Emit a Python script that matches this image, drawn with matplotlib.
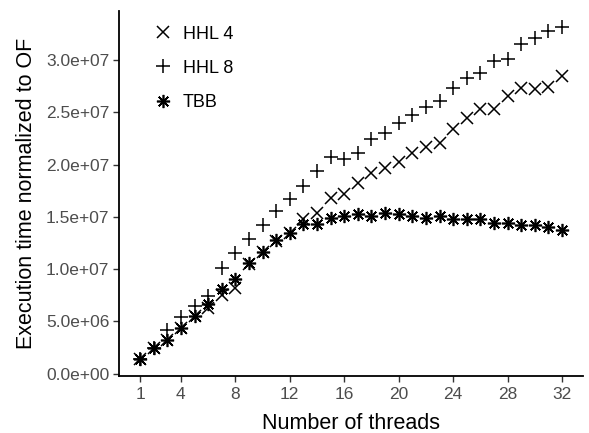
import matplotlib
matplotlib.use("Agg")
import matplotlib.pyplot as plt
import numpy as np
from matplotlib.ticker import FuncFormatter

threads = np.arange(1, 33)

hhl4 = [0.137, 0.245, 0.326, 0.44, 0.549, 0.63, 0.75, 0.82,
        1.05, 1.16, 1.27, 1.35, 1.475, 1.54, 1.682, 1.715,
        1.826, 1.916, 1.97, 2.027, 2.107, 2.171, 2.203, 2.337,
        2.447, 2.529, 2.529, 2.659, 2.73, 2.723, 2.739, 2.848]
hhl8 = [0.137, 0.245, 0.415, 0.542, 0.645, 0.744, 1.01, 1.15,
        1.293, 1.427, 1.555, 1.676, 1.80, 1.938, 2.069, 2.05,
        2.112, 2.241, 2.299, 2.40, 2.474, 2.548, 2.611, 2.73,
        2.83, 2.88, 2.991, 3.008, 3.16, 3.209, 3.28, 3.314]
tbb = [0.137, 0.245, 0.326, 0.44, 0.549, 0.664, 0.814, 0.903,
       1.063, 1.165, 1.277, 1.347, 1.43, 1.43, 1.485, 1.51,
       1.523, 1.51, 1.538, 1.523, 1.51, 1.494, 1.51, 1.478,
       1.482, 1.478, 1.437, 1.437, 1.42, 1.42, 1.404, 1.379]

hhl4 = np.array(hhl4) * 1e7
hhl8 = np.array(hhl8) * 1e7
tbb = np.array(tbb) * 1e7

xticks = [1, 4, 8, 12, 16, 20, 24, 28, 32]
yticks = np.arange(0, 3.01e7, 5e6)

plt.rcParams['font.family'] = ['Liberation Sans', 'DejaVu Sans']

fig = plt.figure(figsize=(5.89, 4.33), dpi=100)
ax = fig.add_axes([0.202, 0.132, 0.788, 0.843])

ax.plot(threads, hhl4, linestyle='none', marker='x', markersize=8,
        markeredgewidth=1.1, color='black', label='HHL 4')
ax.plot(threads, hhl8, linestyle='none', marker='+', markersize=10,
        markeredgewidth=1.1, color='black', label='HHL 8')
ax.plot(threads, tbb, linestyle='none', marker=(8, 2, 0), markersize=9.5,
        markeredgewidth=1.2, color='black', label='TBB')

ax.margins(0.05)
ax.set_xticks(xticks)
ax.set_yticks(yticks)
ax.yaxis.set_major_formatter(FuncFormatter(lambda v, p: f"{v:.1e}"))

for s in ['top', 'right']:
    ax.spines[s].set_visible(False)
for s in ['left', 'bottom']:
    ax.spines[s].set_linewidth(1.3)
ax.tick_params(axis='both', labelsize=12.5, labelcolor='#4D4D4D',
               color='#333333', length=4, width=1, pad=3)
ax.tick_params(axis='x', pad=4)

ax.set_xlabel('Number of threads', fontsize=15.5, labelpad=8)
ax.set_ylabel('Execution time normalized to OF', fontsize=15.5, labelpad=6)

ax.legend(loc='upper left', bbox_to_anchor=(0.04, 1.004), frameon=False,
          fontsize=13, labelspacing=0.95, handlelength=1.0,
          handletextpad=0.6)

fig.savefig('out.png', dpi=100)
